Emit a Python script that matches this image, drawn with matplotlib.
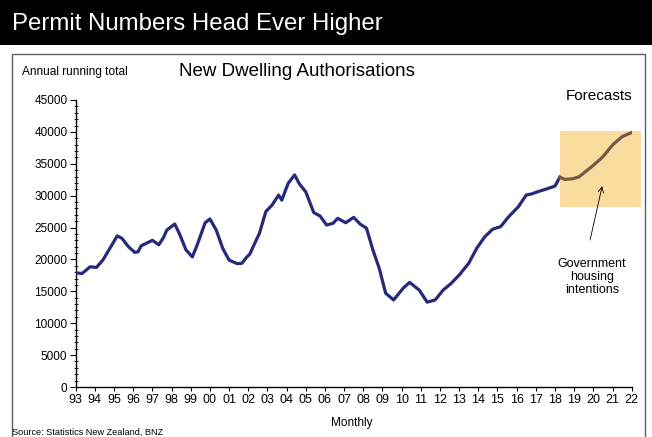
import matplotlib
matplotlib.use("Agg")
import matplotlib.pyplot as plt
from matplotlib.patches import Rectangle
from matplotlib.ticker import MultipleLocator

plt.rcParams["font.family"] = ["Liberation Sans", "DejaVu Sans"]

# annual running total of new dwelling consents
HIST_MONTHS = [
    "1993-01", "1993-05", "1993-10", "1994-02", "1994-06", "1994-11",
    "1995-03", "1995-06", "1995-10", "1996-02", "1996-04", "1996-06",
    "1996-09", "1997-01", "1997-05", "1997-08", "1997-10", "1998-03",
    "1998-06", "1998-10", "1999-02", "1999-05", "1999-10", "2000-01",
    "2000-05", "2000-09", "2001-01", "2001-06", "2001-09", "2001-12",
    "2002-02", "2002-05", "2002-08", "2002-12", "2003-04", "2003-08",
    "2003-10", "2004-02", "2004-06", "2004-09", "2005-01", "2005-03",
    "2005-06", "2005-10", "2006-02", "2006-06", "2006-09", "2007-02",
    "2007-07", "2007-11", "2008-03", "2008-07", "2008-11", "2009-03",
    "2009-08", "2010-02", "2010-06", "2010-12", "2011-05", "2011-10",
    "2012-03", "2012-08", "2013-01", "2013-07", "2013-12", "2014-05",
    "2014-10", "2015-03", "2015-08", "2016-02", "2016-07", "2016-10",
    "2017-02", "2017-07", "2018-01", "2018-04",
]
HIST_VALUES = [
    17900, 17800, 18850, 18750, 19900, 22000,
    23700, 23300, 22000, 21100, 21200, 22150,
    22500, 23000, 22300, 23450, 24600, 25550,
    24000, 21500, 20400, 22250, 25750, 26350,
    24600, 21750, 19900, 19350, 19400, 20350,
    20850, 22500, 24100, 27500, 28550, 30100,
    29300, 31950, 33250, 31850, 30600, 29300,
    27350, 26800, 25400, 25650, 26450, 25750,
    26600, 25550, 24900, 21500, 18600, 14700,
    13650, 15500, 16400, 15200, 13300, 13650,
    15200, 16250, 17550, 19400, 21750, 23550,
    24750, 25150, 26700, 28250, 30100, 30250,
    30600, 31000, 31500, 32900,
]

FCST_MONTHS = ["2018-04", "2018-07", "2018-12", "2019-04", "2019-12",
               "2020-07", "2021-01", "2021-07", "2022-01"]
FCST_VALUES = [32900, 32550, 32650, 32950, 34550, 36100, 37950, 39250, 39900]

YEAR_LABELS = [f"{y % 100:02d}" for y in range(1993, 2023)]

# shaded forecast region
BOX_X = (2018.25, 2022.5)
BOX_Y = (28300, 40100)


def to_year(month):
    y, m = month.split("-")
    return int(y) + (int(m) - 1) / 12


fig = plt.figure(figsize=(6.52, 4.37), dpi=100)
W, H = 652, 437

# black title bar
fig.patches.append(Rectangle((0, 1 - 45 / H), 1, 45 / H, transform=fig.transFigure,
                             facecolor="black", edgecolor="none", zorder=0))
fig.text(12 / W, 1 - 24 / H, "Permit Numbers Head Ever Higher", color="white",
         fontsize=17.3, va="center", ha="left")

# grey frame round the chart
fig.patches.append(Rectangle((12 / W, -0.2), 633 / W, 0.2 + 1 - 54 / H,
                             transform=fig.transFigure, facecolor="none",
                             edgecolor="#606060", linewidth=1, zorder=0))

ax = fig.add_axes([75.7 / W, 50 / H, 556 / W, 287 / H])

ax.add_patch(Rectangle((BOX_X[0], BOX_Y[0]), BOX_X[1] - BOX_X[0], BOX_Y[1] - BOX_Y[0],
                       facecolor="#FADC9E", edgecolor="none", clip_on=False, zorder=1))

ax.plot([to_year(m) for m in HIST_MONTHS], HIST_VALUES,
        color="#262A78", linewidth=2.3, solid_joinstyle="round", zorder=3)
ax.plot([to_year(m) for m in FCST_MONTHS], FCST_VALUES,
        color="#775847", linewidth=2.3, solid_joinstyle="round", zorder=3)

ax.set_xlim(1993, 2022)
ax.set_ylim(0, 45000)

ax.set_xticks(range(1993, 2023))
ax.set_xticklabels(YEAR_LABELS)
ax.yaxis.set_major_locator(MultipleLocator(5000))
ax.yaxis.set_minor_locator(MultipleLocator(1000))

for side in ["top", "right"]:
    ax.spines[side].set_visible(False)
for side in ["left", "bottom"]:
    ax.spines[side].set_linewidth(1)

ax.tick_params(axis="x", direction="out", length=3, width=0.8, labelsize=9, pad=2)
ax.tick_params(axis="y", which="major", direction="out", length=4, width=0.8,
               labelsize=8.5, pad=2)
ax.tick_params(axis="y", which="minor", direction="inout", length=3, width=0.6)

ax.text(2020.3, 45650, "Forecasts", fontsize=11, ha="center", va="center",
        clip_on=False)

ax.annotate("", xy=(2020.46, 31500), xytext=(2019.83, 23050),
            arrowprops=dict(arrowstyle="->", color="black", lw=0.6,
                            shrinkA=0, shrinkB=0))
ax.text(2019.93, 17250, "Government\nhousing\nintentions", fontsize=9,
        ha="center", va="center", linespacing=1.12)

fig.text(22 / W, 1 - 72 / H, "Annual running total", fontsize=8.6, va="center")
fig.text(297 / W, 1 - 71 / H, "New Dwelling Authorisations", fontsize=13.5,
         ha="center", va="center")
fig.text(352 / W, 1 - 423 / H, "Monthly", fontsize=8.5, ha="center", va="center")
fig.text(12 / W, 1 - 432 / H, "Source: Statistics New Zealand, BNZ", fontsize=6.6,
         va="center")

plt.savefig("out.png", dpi=100)
plt.close()
